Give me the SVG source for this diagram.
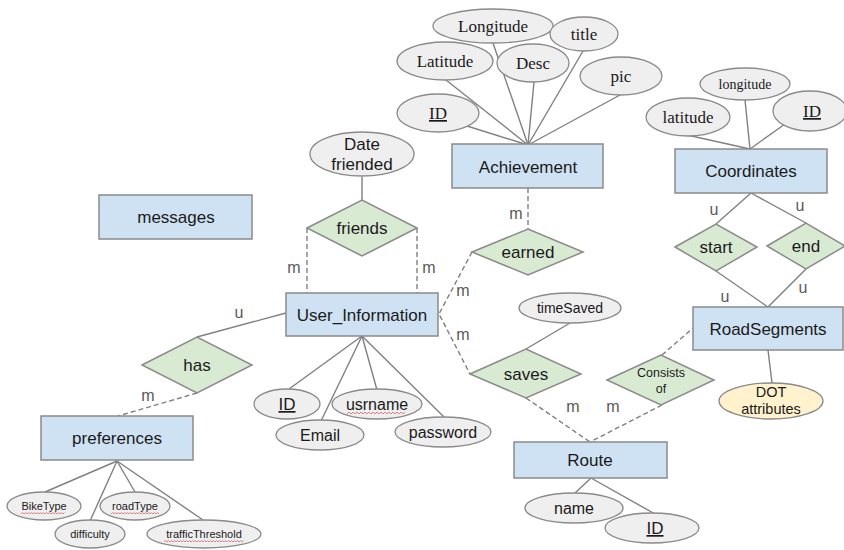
<svg xmlns="http://www.w3.org/2000/svg" width="844" height="550" viewBox="0 0 844 550">
<style>
.ent{fill:#cfe2f3;stroke:#8a8a8a;stroke-width:1.5}
.rel{fill:#d9ead3;stroke:#8a8a8a;stroke-width:1.5}
.att{fill:#efefef;stroke:#8a8a8a;stroke-width:1.3}
.dot{fill:#fff2cc;stroke:#8a8a8a;stroke-width:1.3}
.ln{stroke:#808080;stroke-width:1.4;fill:none}
.dl{stroke:#808080;stroke-width:1.4;fill:none;stroke-dasharray:5,3}
.t{font-family:"Liberation Sans",Arial,sans-serif;font-size:17px;fill:#1a1a1a;text-anchor:middle}
.s{font-family:"Liberation Serif","Times New Roman",serif;font-size:17px;fill:#1a1a1a;text-anchor:middle}
.c{font-family:"Liberation Sans",Arial,sans-serif;font-size:16px;fill:#595959;text-anchor:middle}
.sp{stroke:#e06666;stroke-width:0.8;fill:none}
</style>
<rect width="844" height="550" fill="#ffffff"/>
<g id="connectors">
<!-- Achievement attributes -->
<line class="ln" x1="528" y1="145" x2="493" y2="43"/>
<line class="ln" x1="528" y1="145" x2="446" y2="80"/>
<line class="ln" x1="528" y1="145" x2="534" y2="82"/>
<line class="ln" x1="528" y1="145" x2="583" y2="51"/>
<line class="ln" x1="528" y1="145" x2="620" y2="95"/>
<line class="ln" x1="528" y1="145" x2="467" y2="126"/>
<!-- Coordinates attributes -->
<line class="ln" x1="750" y1="149" x2="687" y2="135"/>
<line class="ln" x1="750" y1="149" x2="745" y2="100"/>
<line class="ln" x1="750" y1="149" x2="785" y2="124"/>
<!-- friends -->
<line class="ln" x1="362" y1="177" x2="362" y2="200"/>
<line class="dl" x1="307" y1="228" x2="307" y2="293"/>
<line class="dl" x1="417" y1="228" x2="417" y2="293"/>
<!-- earned / saves -->
<line class="dl" x1="528" y1="188" x2="528" y2="229"/>
<polyline class="dl" points="472,252 439,314 470,374"/>
<line class="ln" x1="570" y1="323" x2="526" y2="349"/>
<line class="dl" x1="526" y1="398" x2="590" y2="442"/>
<line class="dl" x1="662" y1="405" x2="590" y2="442"/>
<line class="dl" x1="662" y1="355" x2="693" y2="328"/>
<!-- has -->
<line class="ln" x1="286" y1="313" x2="197" y2="337"/>
<line class="dl" x1="197" y1="393" x2="118" y2="416"/>
<!-- User_Information attributes -->
<line class="ln" x1="362" y1="336" x2="289" y2="389"/>
<line class="ln" x1="362" y1="336" x2="321" y2="421"/>
<line class="ln" x1="362" y1="336" x2="377" y2="390"/>
<line class="ln" x1="362" y1="336" x2="444" y2="417"/>
<!-- preferences attributes -->
<line class="ln" x1="117" y1="461" x2="45" y2="492"/>
<line class="ln" x1="117" y1="461" x2="90" y2="521"/>
<line class="ln" x1="117" y1="461" x2="135" y2="492"/>
<line class="ln" x1="117" y1="461" x2="203" y2="520"/>
<!-- start/end -->
<line class="ln" x1="751" y1="193" x2="716" y2="224"/>
<line class="ln" x1="751" y1="193" x2="806" y2="223"/>
<line class="ln" x1="716" y1="271" x2="768" y2="307"/>
<line class="ln" x1="806" y1="269" x2="768" y2="307"/>
<!-- RoadSegments DOT -->
<line class="ln" x1="768" y1="350" x2="772" y2="383"/>
<!-- Route attributes -->
<line class="ln" x1="591" y1="478" x2="575" y2="493"/>
<line class="ln" x1="591" y1="478" x2="655" y2="514"/>
<!-- cardinality labels -->
<text class="c" x="294" y="273">m</text>
<text class="c" x="429" y="273">m</text>
<text class="c" x="516" y="219">m</text>
<text class="c" x="463" y="296">m</text>
<text class="c" x="463" y="340">m</text>
<text class="c" x="239" y="318">u</text>
<text class="c" x="148" y="401">m</text>
<text class="c" x="573" y="412">m</text>
<text class="c" x="613" y="412">m</text>
<text class="c" x="714" y="215">u</text>
<text class="c" x="800" y="211">u</text>
<text class="c" x="725" y="302">u</text>
<text class="c" x="803" y="293">u</text>
</g>

<g id="Achievement">
<rect class="ent" x="452" y="144" width="151" height="44"/>
<text class="t" x="528" y="173">Achievement</text>
</g>
<g id="Achievement_Longitude"><ellipse class="att" cx="493" cy="26" rx="60" ry="17"/><text class="s" x="493" y="32">Longitude</text></g>
<g id="Achievement_title"><ellipse class="att" cx="584" cy="34" rx="34" ry="17"/><text class="s" x="584" y="40">title</text></g>
<g id="Achievement_Latitude"><ellipse class="att" cx="445" cy="61" rx="48" ry="19"/><text class="s" x="445" y="67">Latitude</text></g>
<g id="Achievement_Desc"><ellipse class="att" cx="533" cy="63" rx="36" ry="19"/><text class="s" x="533" y="69">Desc</text></g>
<g id="Achievement_pic"><ellipse class="att" cx="621" cy="76" rx="41" ry="19"/><text class="s" x="621" y="82">pic</text></g>
<g id="Achievement_ID"><ellipse class="att" cx="438" cy="113" rx="41" ry="19"/><text class="s" x="438" y="119" text-decoration="underline">ID</text></g>

<g id="Coordinates">
<rect class="ent" x="675" y="149" width="152" height="44"/>
<text class="t" x="751" y="177">Coordinates</text>
</g>
<g id="Coordinates_longitude"><ellipse class="att" cx="745" cy="84" rx="45" ry="16"/><text class="s" x="745" y="89" style="font-size:14px">longitude</text></g>
<g id="Coordinates_latitude"><ellipse class="att" cx="688" cy="117" rx="42" ry="19"/><text class="s" x="688" y="123">latitude</text></g>
<g id="Coordinates_ID"><ellipse class="att" cx="810" cy="111" rx="37" ry="20"/><text class="s" x="812" y="117" text-decoration="underline">ID</text></g>

<g id="Date_friended"><ellipse class="att" cx="362" cy="154" rx="52" ry="22"/><text class="t" x="362" y="150">Date</text><text class="t" x="362" y="170">friended</text></g>
<g id="friends"><polygon class="rel" points="307,228 362,200 417,228 362,256"/><text class="t" x="362" y="234">friends</text></g>

<g id="messages">
<rect class="ent" x="99" y="195" width="153" height="44"/>
<text class="t" x="176" y="223">messages</text>
</g>

<g id="earned"><polygon class="rel" points="472,252 528,229 583,252 528,275"/><text class="t" x="528" y="258">earned</text></g>
<g id="timeSaved"><ellipse class="att" cx="570" cy="308" rx="51" ry="15"/><text class="t" x="570" y="313" style="font-size:14px">timeSaved</text></g>
<g id="saves"><polygon class="rel" points="470,374 526,349 581,374 526,398"/><text class="t" x="526" y="380">saves</text></g>
<g id="Consists_of"><polygon class="rel" points="607,380 661,355 714,380 661,405"/><text class="t" x="661" y="377" style="font-size:12.5px">Consists</text><text class="t" x="661" y="393" style="font-size:12.5px">of</text></g>

<g id="User_Information">
<rect class="ent" x="286" y="293" width="152" height="43"/>
<text class="t" x="362" y="321">User_Information</text>
</g>
<g id="UI_ID"><ellipse class="att" cx="287" cy="404" rx="33" ry="15"/><text class="t" x="287" y="410" text-decoration="underline">ID</text></g>
<g id="UI_Email"><ellipse class="att" cx="320" cy="435" rx="44" ry="15"/><text class="t" x="320" y="441" style="font-size:16px">Email</text></g>
<g id="UI_usrname"><ellipse class="att" cx="377" cy="404" rx="45" ry="15"/><text class="t" x="377" y="410" style="font-size:16px">usrname</text><path class="sp" d="M347,414 l2,-2 l2,2 l2,-2 l2,2 l2,-2 l2,2 l2,-2 l2,2 l2,-2 l2,2 l2,-2 l2,2 l2,-2 l2,2 l2,-2 l2,2 l2,-2 l2,2 l2,-2 l2,2 l2,-2 l2,2 l2,-2 l2,2 l2,-2 l2,2 l2,-2 l2,2 l2,-2"/></g>
<g id="UI_password"><ellipse class="att" cx="443" cy="432" rx="48" ry="15"/><text class="t" x="443" y="438" style="font-size:16px">password</text></g>

<g id="has"><polygon class="rel" points="142,365 197,337 252,365 197,393"/><text class="t" x="197" y="371">has</text></g>

<g id="preferences">
<rect class="ent" x="41" y="416" width="152" height="44"/>
<text class="t" x="117" y="444">preferences</text>
</g>
<g id="pref_BikeType"><ellipse class="att" cx="44" cy="506" rx="37" ry="14"/><text class="t" x="44" y="510" style="font-size:11px">BikeType</text><path class="sp" d="M21,514 l1.5,-1.5 l1.5,1.5 l1.5,-1.5 l1.5,1.5 l1.5,-1.5 l1.5,1.5 l1.5,-1.5 l1.5,1.5 l1.5,-1.5 l1.5,1.5 l1.5,-1.5 l1.5,1.5 l1.5,-1.5 l1.5,1.5 l1.5,-1.5 l1.5,1.5 l1.5,-1.5 l1.5,1.5 l1.5,-1.5 l1.5,1.5 l1.5,-1.5 l1.5,1.5 l1.5,-1.5 l1.5,1.5 l1.5,-1.5 l1.5,1.5 l1.5,-1.5 l1.5,1.5 l1.5,-1.5"/></g>
<g id="pref_difficulty"><ellipse class="att" cx="90" cy="534" rx="35" ry="14"/><text class="t" x="90" y="538" style="font-size:11px">difficulty</text></g>
<g id="pref_roadType"><ellipse class="att" cx="135" cy="506" rx="35" ry="14"/><text class="t" x="135" y="510" style="font-size:11px">roadType</text><path class="sp" d="M111,514 l1.5,-1.5 l1.5,1.5 l1.5,-1.5 l1.5,1.5 l1.5,-1.5 l1.5,1.5 l1.5,-1.5 l1.5,1.5 l1.5,-1.5 l1.5,1.5 l1.5,-1.5 l1.5,1.5 l1.5,-1.5 l1.5,1.5 l1.5,-1.5 l1.5,1.5 l1.5,-1.5 l1.5,1.5 l1.5,-1.5 l1.5,1.5 l1.5,-1.5 l1.5,1.5 l1.5,-1.5 l1.5,1.5 l1.5,-1.5 l1.5,1.5 l1.5,-1.5 l1.5,1.5 l1.5,-1.5 l1.5,1.5 l1.5,-1.5 l1.5,1.5"/></g>
<g id="pref_trafficThreshold"><ellipse class="att" cx="204" cy="534" rx="57" ry="14"/><text class="t" x="204" y="538" style="font-size:11px">trafficThreshold</text><path class="sp" d="M164,542 l1.5,-1.5 l1.5,1.5 l1.5,-1.5 l1.5,1.5 l1.5,-1.5 l1.5,1.5 l1.5,-1.5 l1.5,1.5 l1.5,-1.5 l1.5,1.5 l1.5,-1.5 l1.5,1.5 l1.5,-1.5 l1.5,1.5 l1.5,-1.5 l1.5,1.5 l1.5,-1.5 l1.5,1.5 l1.5,-1.5 l1.5,1.5 l1.5,-1.5 l1.5,1.5 l1.5,-1.5 l1.5,1.5 l1.5,-1.5 l1.5,1.5 l1.5,-1.5 l1.5,1.5 l1.5,-1.5 l1.5,1.5 l1.5,-1.5 l1.5,1.5 l1.5,-1.5 l1.5,1.5 l1.5,-1.5 l1.5,1.5 l1.5,-1.5 l1.5,1.5 l1.5,-1.5 l1.5,1.5 l1.5,-1.5 l1.5,1.5 l1.5,-1.5 l1.5,1.5 l1.5,-1.5 l1.5,1.5 l1.5,-1.5 l1.5,1.5 l1.5,-1.5 l1.5,1.5 l1.5,-1.5 l1.5,1.5 l1.5,-1.5"/></g>

<g id="start"><polygon class="rel" points="675,247 716,224 757,247 716,271"/><text class="t" x="716" y="253">start</text></g>
<g id="end"><polygon class="rel" points="767,246 806,223 845,246 806,269"/><text class="t" x="806" y="252">end</text></g>

<g id="RoadSegments">
<rect class="ent" x="693" y="307" width="150" height="43"/>
<text class="t" x="768" y="335">RoadSegments</text>
</g>
<g id="DOT_attributes"><ellipse class="dot" cx="771" cy="401" rx="52" ry="18"/><text class="t" x="771" y="397" style="font-size:14.5px">DOT</text><text class="t" x="771" y="414" style="font-size:14.5px">attributes</text></g>

<g id="Route">
<rect class="ent" x="514" y="442" width="153" height="36"/>
<text class="t" x="590" y="466">Route</text>
</g>
<g id="Route_name"><ellipse class="att" cx="574" cy="508" rx="49" ry="15"/><text class="t" x="574" y="514" style="font-size:16px">name</text></g>
<g id="Route_ID"><ellipse class="att" cx="652" cy="528" rx="47" ry="15"/><text class="t" x="655" y="534" text-decoration="underline">ID</text></g>
</svg>
